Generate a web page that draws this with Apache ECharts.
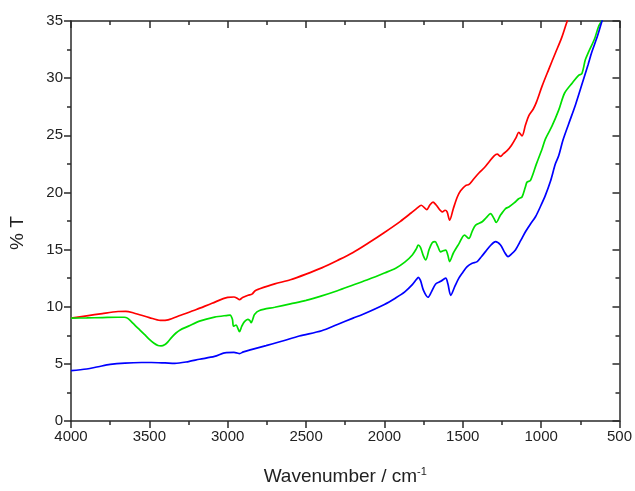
<!DOCTYPE html>
<html>
<head>
<meta charset="utf-8">
<script src="https://cdn.jsdelivr.net/npm/echarts@6/dist/echarts.min.js"></script>
<style>
  html, body { margin: 0; padding: 0; background: #fff; }
  #chart { width: 635px; height: 491px; }
</style>
</head>
<body>
<div id="chart"></div>
<script>
// IR transmission spectra: [wavenumber (cm-1), %T]
const redSpectrum = [
  [4000,9.0],[3900,9.2],[3800,9.4],[3700,9.58],[3650,9.6],[3600,9.45],[3500,9.05],[3430,8.8],
  [3380,8.85],[3300,9.25],[3200,9.75],[3100,10.3],[3000,10.82],[2960,10.85],[2940,10.75],[2925,10.62],
  [2905,10.8],[2870,11.0],[2845,11.1],[2825,11.4],[2800,11.55],[2700,12.0],[2600,12.36],[2500,12.85],
  [2400,13.4],[2300,14.05],[2200,14.75],[2100,15.6],[2000,16.5],[1900,17.45],[1830,18.2],[1790,18.65],
  [1765,18.88],[1730,18.5],[1710,18.9],[1690,19.15],[1670,18.9],[1630,18.3],[1613,18.44],[1600,18.3],
  [1584,17.57],[1560,18.6],[1535,19.6],[1514,20.15],[1482,20.6],[1460,20.7],[1429,21.2],[1397,21.7],
  [1360,22.2],[1334,22.64],[1300,23.2],[1280,23.35],[1259,23.16],[1240,23.4],[1217,23.65],[1190,24.1],
  [1160,24.8],[1143,25.25],[1122,24.95],[1100,25.9],[1079,26.7],[1050,27.3],[1030,27.9],[994,29.3],
  [952,30.75],[909,32.2],[870,33.5],[835,34.94],[800,36.2]
];
const greenSpectrum = [
  [4000,9.0],[3900,9.02],[3800,9.05],[3700,9.08],[3660,9.08],[3640,9.0],[3615,8.7],[3590,8.35],
  [3560,7.95],[3530,7.55],[3500,7.15],[3470,6.8],[3445,6.6],[3425,6.57],[3400,6.7],[3380,6.95],
  [3359,7.3],[3330,7.7],[3306,7.95],[3250,8.3],[3180,8.74],[3084,9.09],[3000,9.25],[2985,9.27],
  [2970,8.9],[2963,8.3],[2946,8.4],[2935,8.1],[2925,7.82],[2910,8.3],[2893,8.69],[2872,8.89],
  [2860,8.8],[2850,8.6],[2840,8.9],[2829,9.32],[2797,9.67],[2700,9.95],[2600,10.25],[2500,10.55],
  [2400,10.95],[2300,11.4],[2200,11.9],[2100,12.4],[2000,12.95],[1928,13.37],[1870,13.9],[1822,14.53],
  [1795,15.1],[1784,15.4],[1770,15.2],[1750,14.4],[1736,14.1],[1715,15.0],[1695,15.6],[1677,15.69],
  [1660,15.3],[1641,14.8],[1625,14.9],[1609,14.96],[1595,14.5],[1584,13.95],[1560,14.7],[1525,15.5],
  [1489,16.27],[1461,15.98],[1440,16.6],[1418,17.14],[1376,17.43],[1350,17.8],[1323,18.15],[1300,17.7],
  [1287,17.37],[1260,18.0],[1227,18.59],[1206,18.73],[1170,19.1],[1143,19.45],[1122,19.6],[1100,20.5],
  [1090,20.9],[1068,21.05],[1030,22.5],[994,23.8],[973,24.67],[931,25.8],[888,27.2],[850,28.7],
  [800,29.6],[761,30.25],[740,30.4],[718,31.6],[697,32.3],[660,33.4],[634,34.5],[615,35.0],[600,35.6]
];
const blueSpectrum = [
  [4000,4.4],[3900,4.55],[3826,4.75],[3750,4.95],[3656,5.07],[3550,5.12],[3487,5.12],[3400,5.08],
  [3338,5.04],[3250,5.2],[3180,5.4],[3084,5.65],[3009,5.99],[2960,6.0],[2940,5.95],[2925,5.9],
  [2900,6.05],[2850,6.25],[2755,6.6],[2650,7.0],[2543,7.44],[2400,7.9],[2300,8.45],[2200,9.0],
  [2140,9.32],[2000,10.2],[1928,10.77],[1870,11.3],[1822,11.93],[1795,12.4],[1784,12.57],[1770,12.3],
  [1750,11.4],[1722,10.83],[1700,11.3],[1673,11.99],[1641,12.22],[1609,12.5],[1595,12.0],[1577,11.0],
  [1550,11.8],[1525,12.5],[1500,13.0],[1472,13.5],[1440,13.8],[1408,13.95],[1380,14.4],[1355,14.82],
  [1320,15.4],[1291,15.69],[1259,15.4],[1235,14.8],[1211,14.39],[1190,14.6],[1164,14.97],[1130,15.8],
  [1100,16.56],[1070,17.2],[1036,17.87],[1000,18.9],[973,19.74],[940,21.0],[909,22.5],[888,23.2],
  [860,24.6],[825,25.97],[780,27.7],[740,29.44],[700,31.2],[676,32.3],[640,33.7],[613,34.94],[600,35.5]
];

const xTicks = { min: 500, max: 4000, interval: 500 };
const yTicks = { min: 0, max: 35, interval: 5 };

const FONT = 'Liberation Sans, Arial, Helvetica, sans-serif';
const AXIS_COLOR = '#2a2a2a';

function frameAxis(opts, labelled, inside) {
  return Object.assign({
    type: 'value',
    splitLine: { show: false },
    axisLine: { show: true, onZero: false, lineStyle: { color: AXIS_COLOR, width: 1.5 } },
    axisTick: { show: true, inside: inside, length: 7, lineStyle: { color: AXIS_COLOR, width: 1.5 } },
    minorTick: { show: true, splitNumber: 2, length: 4, lineStyle: { color: AXIS_COLOR, width: 1.5 } },
    axisLabel: {
      show: labelled, fontFamily: FONT, fontSize: 15, color: '#222',
      formatter: v => String(v)
    }
  }, opts);
}

const chart = echarts.init(document.getElementById('chart'), null, { renderer: 'canvas' });

chart.setOption({
  animation: false,
  backgroundColor: '#ffffff',
  grid: { left: 71, right: 14, top: 21, bottom: 67 },
  xAxis: [
    frameAxis({
      position: 'bottom', inverse: true,
      min: xTicks.min, max: xTicks.max, interval: xTicks.interval,
      name: 'Wavenumber / cm{sup|-1}',
      nameLocation: 'middle', nameGap: 45,
      nameTextStyle: {
        fontFamily: FONT, fontSize: 19, color: '#222',
        rich: { sup: { fontFamily: FONT, fontSize: 11, color: '#222', verticalAlign: 'top', padding: [0, 0, 10, 0] } }
      }
    }, true, false),
    frameAxis({
      position: 'top', inverse: true,
      min: xTicks.min, max: xTicks.max, interval: xTicks.interval
    }, false, true)
  ],
  yAxis: [
    frameAxis({
      position: 'left',
      min: yTicks.min, max: yTicks.max, interval: yTicks.interval,
      name: '% T', nameLocation: 'middle', nameGap: 44,
      nameTextStyle: { fontFamily: FONT, fontSize: 19, color: '#222', padding: [0, 24, 0, 0] }
    }, true, false),
    frameAxis({
      position: 'right',
      min: yTicks.min, max: yTicks.max, interval: yTicks.interval
    }, false, true)
  ],
  series: [
    { name: 'red', data: redSpectrum, color: '#ff0000' },
    { name: 'green', data: greenSpectrum, color: '#00e000' },
    { name: 'blue', data: blueSpectrum, color: '#0000ff' }
  ].map(s => ({
    type: 'line',
    name: s.name,
    data: s.data,
    xAxisIndex: 0,
    yAxisIndex: 0,
    showSymbol: false,
    smooth: 0.3,
    clip: true,
    lineStyle: { color: s.color, width: 1.7 },
    itemStyle: { color: s.color }
  }))
});
</script>
</body>
</html>
